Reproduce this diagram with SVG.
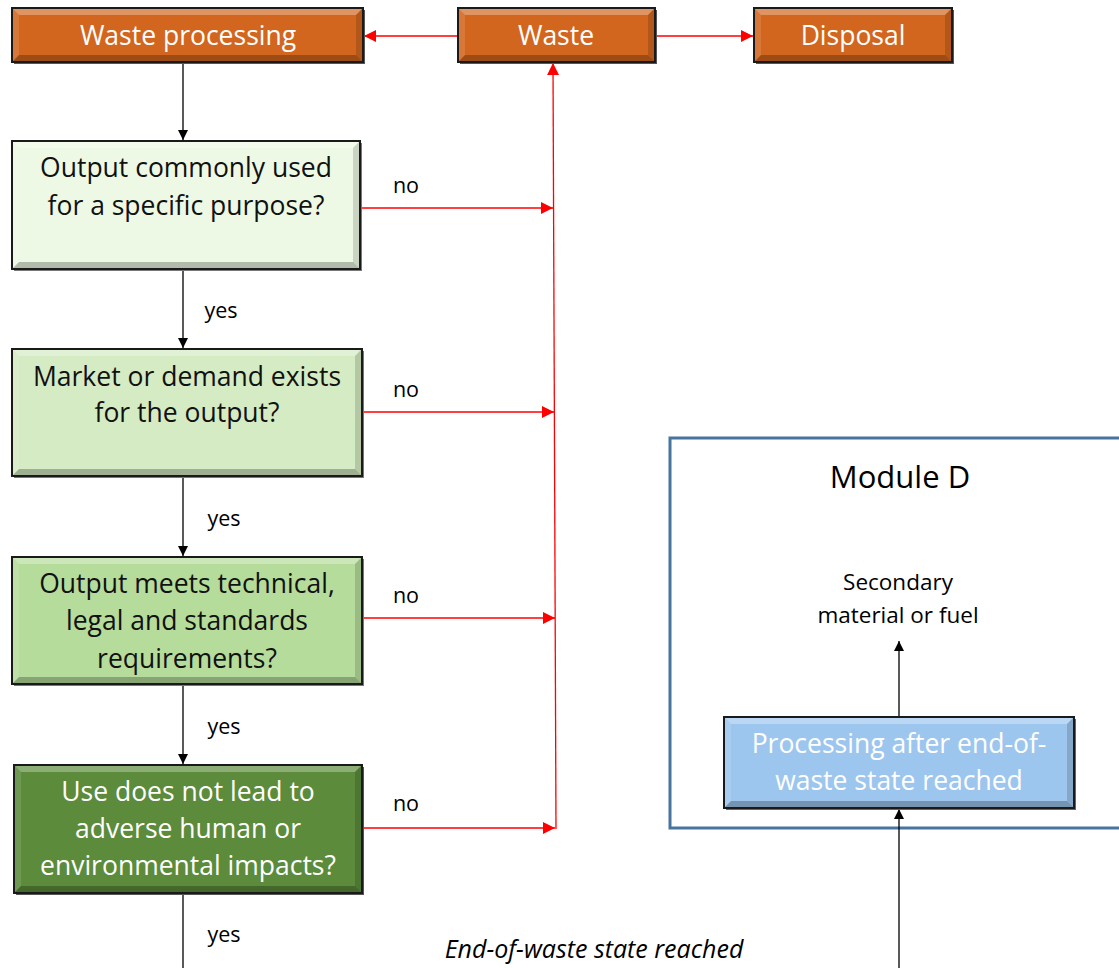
<svg xmlns="http://www.w3.org/2000/svg" width="1119" height="968" viewBox="0 0 1119 968">
<defs>
<style>
.t{font-family:"Open Sans","Liberation Sans",sans-serif;text-anchor:middle}
.box{stroke:#1a1a1a;stroke-width:2}
.hi{fill:#fff;opacity:.3}
.hl{fill:#fff;opacity:.12}
.sh{fill:#000;opacity:.25}
.sr{fill:#000;opacity:.15}
.blk{stroke:#000;stroke-width:1.3;fill:none}
.red{stroke:#ff0000;stroke-width:1.3;fill:none}
.lab{font-size:21.5px;fill:#000}
.q{font-size:26.5px}
</style>
<marker id="ab" viewBox="0 0 10 10" refX="10" refY="5" markerWidth="10" markerHeight="10" markerUnits="userSpaceOnUse" orient="auto"><path d="M0,0L10,5L0,10z" fill="#000"/></marker>
<marker id="ar" viewBox="0 0 10 10" refX="10" refY="5" markerWidth="12" markerHeight="12" markerUnits="userSpaceOnUse" orient="auto"><path d="M0,0L10,5L0,10z" fill="#ff0000"/></marker>
</defs>
<rect width="1119" height="968" fill="#fff"/>

<g id="moduleD">
<rect x="670" y="438" width="460" height="390" fill="none" stroke="#4874A0" stroke-width="3"/>
<text class="t" x="900" y="488" font-size="31">Module D</text>
<text class="t" x="898" y="590" font-size="22.5">Secondary</text>
<text class="t" x="898" y="623" font-size="22.5">material or fuel</text>
</g>

<g id="connectors">
<line class="blk" x1="183" y1="62" x2="183" y2="140" marker-end="url(#ab)"/>
<line class="blk" x1="183" y1="269" x2="183" y2="348" marker-end="url(#ab)"/>
<line class="blk" x1="183" y1="476" x2="183" y2="556" marker-end="url(#ab)"/>
<line class="blk" x1="183" y1="684" x2="183" y2="764" marker-end="url(#ab)"/>
<line class="blk" x1="183" y1="893" x2="183" y2="968"/>
<line class="blk" x1="899" y1="717" x2="899" y2="641" marker-end="url(#ab)"/>
<line class="blk" x1="899" y1="968" x2="899" y2="809" marker-end="url(#ab)"/>
<line class="red" x1="458" y1="36" x2="364" y2="36" marker-end="url(#ar)"/>
<line class="red" x1="655" y1="36" x2="753" y2="36" marker-end="url(#ar)"/>
<line class="red" x1="556" y1="829" x2="553" y2="63" marker-end="url(#ar)"/>
<line class="red" x1="362" y1="208" x2="553" y2="208" marker-end="url(#ar)"/>
<line class="red" x1="362" y1="412" x2="554" y2="412" marker-end="url(#ar)"/>
<line class="red" x1="362" y1="618" x2="555" y2="618" marker-end="url(#ar)"/>
<line class="red" x1="362" y1="828" x2="555" y2="828" marker-end="url(#ar)"/>
<text class="t lab" x="406" y="193">no</text>
<text class="t lab" x="406" y="397">no</text>
<text class="t lab" x="406" y="603">no</text>
<text class="t lab" x="406" y="811">no</text>
<text class="t lab" x="221" y="318">yes</text>
<text class="t lab" x="224" y="526">yes</text>
<text class="t lab" x="224" y="734">yes</text>
<text class="t lab" x="224" y="942">yes</text>
<text class="t" x="594" y="958" font-size="25" font-style="italic">End-of-waste state reached</text>
</g>

<g id="wasteProcessing">
<rect x="14" y="10" width="351" height="54" fill="#555"/>
<rect class="box" x="12" y="8" width="351" height="54" fill="#D2661E"/>
<polygon class="hi" points="13,9 362,9 356,15 19,15"/>
<polygon class="sh" points="13,61 362,61 356,55 19,55"/>
<polygon class="hl" points="13,9 19,15 19,55 13,61"/>
<polygon class="sr" points="362,9 356,15 356,55 362,61"/>
<text class="t q" x="188" y="45" fill="#fff">Waste processing</text>
</g>

<g id="waste">
<rect x="460" y="10" width="197" height="54" fill="#555"/>
<rect class="box" x="458" y="8" width="197" height="54" fill="#D2661E"/>
<polygon class="hi" points="459,9 654,9 648,15 465,15"/>
<polygon class="sh" points="459,61 654,61 648,55 465,55"/>
<polygon class="hl" points="459,9 465,15 465,55 459,61"/>
<polygon class="sr" points="654,9 648,15 648,55 654,61"/>
<text class="t q" x="556" y="45" fill="#fff">Waste</text>
</g>

<g id="disposal">
<rect x="756" y="10" width="198" height="54" fill="#555"/>
<rect class="box" x="754" y="8" width="198" height="54" fill="#D2661E"/>
<polygon class="hi" points="755,9 951,9 945,15 761,15"/>
<polygon class="sh" points="755,61 951,61 945,55 761,55"/>
<polygon class="hl" points="755,9 761,15 761,55 755,61"/>
<polygon class="sr" points="951,9 945,15 945,55 951,61"/>
<text class="t q" x="853" y="45" fill="#fff">Disposal</text>
</g>

<g id="q1">
<rect x="14" y="143" width="348" height="128" fill="#777"/>
<rect class="box" x="12" y="141" width="348" height="128" fill="#EEF9E5"/>
<polygon class="hi" points="13,142 359,142 353,148 19,148"/>
<polygon class="sh" points="13,268 359,268 353,262 19,262"/>
<polygon class="hl" points="13,142 19,148 19,262 13,268"/>
<polygon class="sr" points="359,142 353,148 353,262 359,268"/>
<text class="t q" x="186" y="177" fill="#111">Output commonly used</text>
<text class="t q" x="186" y="215" fill="#111">for a specific purpose?</text>
</g>

<g id="q2">
<rect x="14" y="351" width="350" height="127" fill="#777"/>
<rect class="box" x="12" y="349" width="350" height="127" fill="#D5EBC3"/>
<polygon class="hi" points="13,350 361,350 355,356 19,356"/>
<polygon class="sh" points="13,475 361,475 355,469 19,469"/>
<polygon class="hl" points="13,350 19,356 19,469 13,475"/>
<polygon class="sr" points="361,350 355,356 355,469 361,475"/>
<text class="t q" x="187" y="386" fill="#111">Market or demand exists</text>
<text class="t q" x="187" y="422" fill="#111">for the output?</text>
</g>

<g id="q3">
<rect x="14" y="559" width="350" height="127" fill="#777"/>
<rect class="box" x="12" y="557" width="350" height="127" fill="#B5DC9B"/>
<polygon class="hi" points="13,558 361,558 355,564 19,564"/>
<polygon class="sh" points="13,683 361,683 355,677 19,677"/>
<polygon class="hl" points="13,558 19,564 19,677 13,683"/>
<polygon class="sr" points="361,558 355,564 355,677 361,683"/>
<text class="t q" x="187" y="593" fill="#111">Output meets technical,</text>
<text class="t q" x="187" y="630" fill="#111">legal and standards</text>
<text class="t q" x="187" y="668" fill="#111">requirements?</text>
</g>

<g id="q4">
<rect x="16" y="767" width="348" height="128" fill="#555"/>
<rect class="box" x="14" y="765" width="348" height="128" fill="#5B8B3B"/>
<polygon class="hi" points="15,766 361,766 355,772 21,772"/>
<polygon class="sh" points="15,892 361,892 355,886 21,886"/>
<polygon class="hl" points="15,766 21,772 21,886 15,892"/>
<polygon class="sr" points="361,766 355,772 355,886 361,892"/>
<text class="t q" x="188" y="801" fill="#fff">Use does not lead to</text>
<text class="t q" x="188" y="838" fill="#fff">adverse human or</text>
<text class="t q" x="188" y="875" fill="#fff">environmental impacts?</text>
</g>

<g id="processingAfter">
<rect x="726" y="719" width="350" height="91" fill="#666"/>
<rect class="box" x="724" y="717" width="350" height="91" fill="#9DC6EE"/>
<polygon class="hi" points="725,718 1073,718 1067,724 731,724"/>
<polygon class="sh" points="725,807 1073,807 1067,801 731,801"/>
<polygon class="hl" points="725,718 731,724 731,801 725,807"/>
<polygon class="sr" points="1073,718 1067,724 1067,801 1073,807"/>
<text class="t q" x="899" y="753" fill="#fff">Processing after end-of-</text>
<text class="t q" x="899" y="790" fill="#fff">waste state reached</text>
</g>
</svg>
